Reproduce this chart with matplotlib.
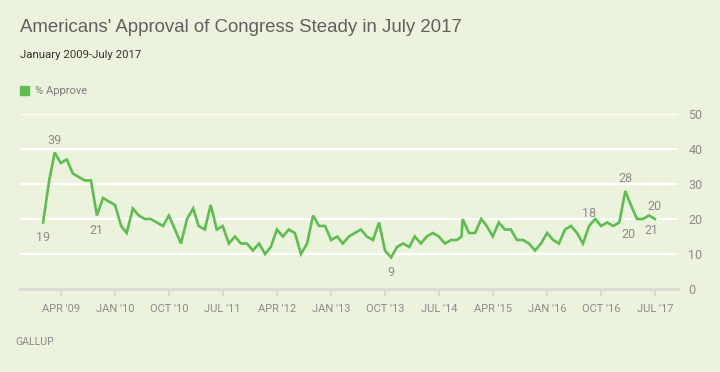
import matplotlib
matplotlib.use('Agg')
import matplotlib.pyplot as plt
import pandas as pd

# poll dates (month starts, with the extra late-October 2014 reading)
poll_dates = list(pd.date_range('2009-01-01', '2014-10-01', freq='MS')) + \
    [pd.Timestamp('2014-10-24'), pd.Timestamp('2014-10-30')] + \
    list(pd.date_range('2014-12-01', '2017-07-01', freq='MS'))

approve = [
    19, 31, 39, 36, 37, 33, 32, 31, 31, 21, 26, 25,   # 2009
    24, 18, 16, 23, 21, 20, 20, 19, 18, 21, 17, 13,   # 2010
    20, 23, 18, 17, 24, 17, 18, 13, 15, 13, 13, 11,   # 2011
    13, 10, 12, 17, 15, 17, 16, 10, 13, 21, 18, 18,   # 2012
    14, 15, 13, 15, 16, 17, 15, 14, 19, 11, 9, 12,    # 2013
    13, 12, 15, 13, 15, 16, 15, 13, 14, 14, 15, 20, 16,  # 2014
    16, 20, 18, 15, 19, 17, 17, 14, 14, 13, 11, 13,   # 2015
    16, 14, 13, 17, 18, 16, 13, 18, 20, 18, 19, 18,   # 2016
    19, 28, 24, 20, 20, 21, 20,                       # 2017
]

tick_dates = pd.date_range('2009-04-01', '2017-07-01', freq='9MS')
tick_labels = ["APR '09", "JAN '10", "OCT '10", "JUL '11", "APR '12", "JAN '13",
               "OCT '13", "JUL '14", "APR '15", "JAN '16", "OCT '16", "JUL '17"]

# labelled points: (date, value, where, x shift in points)
labels = [
    ('2009-01-01', 19, 'below', 0),
    ('2009-03-01', 39, 'above', 0),
    ('2009-10-01', 21, 'below', 0),
    ('2013-11-01', 9, 'below', 0),
    ('2016-08-01', 18, 'above', 0),
    ('2017-02-01', 28, 'above', 0),
    ('2017-04-01', 20, 'below', -6),
    ('2017-06-01', 21, 'below', 2),
    ('2017-07-01', 20, 'above', 0),
]

bg = '#ebf3dc'
green = '#5dbe4f'
grey = '#8c8c8c'

fig = plt.figure(figsize=(7.2, 3.72), dpi=100, facecolor=bg)
ax = fig.add_axes([20 / 720, 83 / 372, 658 / 720, 175 / 372], facecolor=bg)

ax.plot(poll_dates, approve, color=green, lw=1.9, solid_joinstyle='miter', zorder=3, clip_on=False)

ax.set_ylim(0, 50)
ax.set_xlim(pd.Timestamp('2008-09-06'), pd.Timestamp('2017-10-26'))
ax.set_yticks([0, 10, 20, 30, 40, 50])
for y in [10, 20, 30, 40, 50]:
    ax.axhline(y, color='white', lw=1.6, zorder=1)
ax.axhline(0, color='#d8dcd3', lw=2, zorder=2, clip_on=False)

for s in ax.spines.values():
    s.set_visible(False)
ax.yaxis.tick_right()
ax.tick_params(axis='y', length=0, pad=7.5, labelsize=9, labelcolor=grey)
ax.set_xticks(tick_dates)
ax.set_xticklabels(tick_labels)
ax.tick_params(axis='x', length=5, width=1.5, color='#d8dcd3', pad=6, labelsize=8, labelcolor=grey)
for t in ax.get_xticklabels():
    t.set_family('Roboto')
for t in ax.get_yticklabels():
    t.set_family('Roboto')

for d, v, where, dx in labels:
    off = 9 if where == 'above' else -11
    ax.annotate(str(v), (pd.Timestamp(d), v), xytext=(dx, off), textcoords='offset points',
                ha='center', va='center', fontsize=9, color=grey, family='Roboto')

fig.text(20 / 720, 1 - 27 / 372, "Americans' Approval of Congress Steady in July 2017",
         fontsize=13.4, color='#606060', family='Liberation Sans', va='center')
fig.text(20 / 720, 1 - 55 / 372, "January 2009-July 2017", fontsize=8.2, color='#333333',
         family='Roboto', va='center')
fig.patches.append(plt.Rectangle((20 / 720, 1 - 95 / 372), 9 / 720, 9 / 372,
                                 transform=fig.transFigure, color=green, figure=fig))
fig.text(35 / 720, 1 - 90.5 / 372, "% Approve", fontsize=8, color='#7a7a7a',
         family='Roboto', va='center')
fig.text(15 / 720, 1 - 342 / 372, "GALLUP", fontsize=7.6, color='#8a8a8a',
         family='Roboto', va='center')

fig.savefig('out.png', dpi=100, facecolor=bg)
